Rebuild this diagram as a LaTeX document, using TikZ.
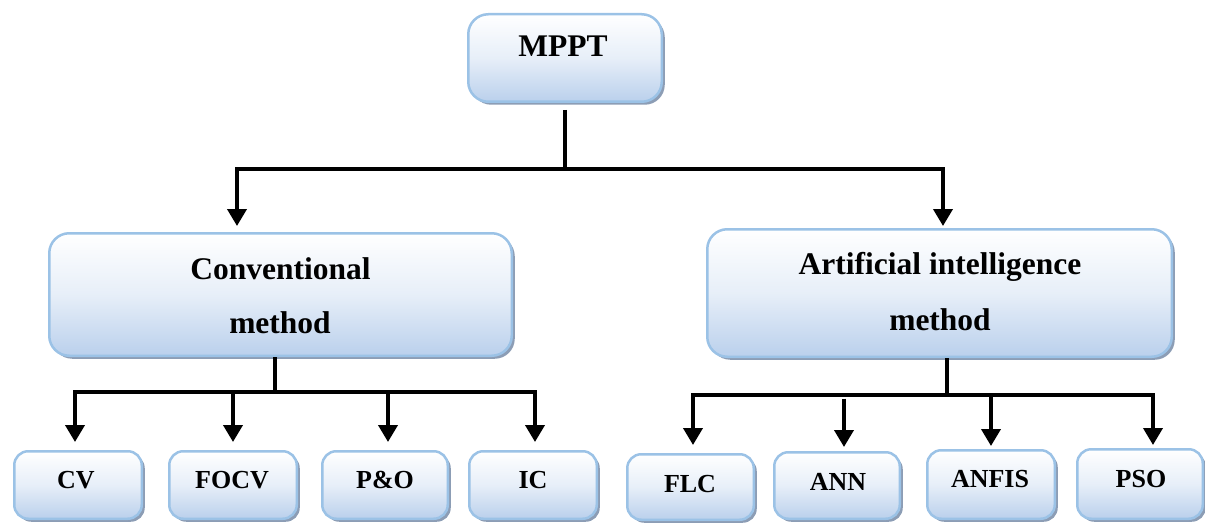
\documentclass[tikz,border=0pt]{standalone}
\usepackage{fontspec}
\setmainfont{Liberation Serif}
\usetikzlibrary{arrows.meta,shadows}
\definecolor{boxline}{RGB}{155,194,230}
\definecolor{boxfill}{RGB}{186,208,236}
\definecolor{boxshadow}{RGB}{120,140,168}
\tikzset{
  box/.style={draw=boxline, line width=2.5pt, inner sep=0pt,
    top color=white, bottom color=boxfill, middle color=boxfill!35!white,
    drop shadow={shadow xshift=3pt, shadow yshift=-3pt, fill=boxshadow, opacity=0.85}},
  bigbox/.style={box, rounded corners=20pt},
  smallbox/.style={box, rounded corners=14pt},
  bigtext/.style={font=\fontsize{31.5}{38}\selectfont\bfseries, inner sep=0pt, anchor=base},
  smalltext/.style={font=\fontsize{26}{31}\selectfont\bfseries, inner sep=0pt, anchor=base},
  conn/.style={line width=3.8pt, black},
  arr/.style={conn, -{Triangle[width=19pt,length=17pt]}}
}
\begin{document}
\begin{tikzpicture}[x=1pt,y=-1pt]
\useasboundingbox (0,0) rectangle (1205,524);
% boxes
\node[bigbox, minimum width=193.5pt, minimum height=87.5pt] (mppt) at (565,58) {};
\node[bigbox, minimum width=462.5pt, minimum height=122.5pt] (conv) at (280.5,294.5) {};
\node[bigbox, minimum width=464.5pt, minimum height=127.5pt] (ai) at (939.5,293) {};
\node[smallbox, minimum width=127.5pt, minimum height=67.5pt] (cv) at (78,485) {};
\node[smallbox, minimum width=127.5pt, minimum height=67.5pt] (focv) at (233,485) {};
\node[smallbox, minimum width=125.5pt, minimum height=67.5pt] (pando) at (385,485) {};
\node[smallbox, minimum width=127.5pt, minimum height=67.5pt] (ic) at (533,485) {};
\node[smallbox, minimum width=126.5pt, minimum height=65.5pt] (flc) at (690.5,487) {};
\node[smallbox, minimum width=125.5pt, minimum height=66.5pt] (ann) at (837,485.5) {};
\node[smallbox, minimum width=127.5pt, minimum height=68.5pt] (anfis) at (991,484.5) {};
\node[smallbox, minimum width=125.5pt, minimum height=69.5pt] (pso) at (1140,484) {};
% texts
\node[bigtext] (tmppt) at (563,57) {MPPT};
\node[bigtext] (tconv1) at (280.5,279) {Conventional};
\node[bigtext] (tconv2) at (280,333) {method};
\node[bigtext] (tai1) at (940,274) {Artificial intelligence};
\node[bigtext] (tai2) at (940,330) {method};
\node[smalltext] (tcv) at (76,488) {CV};
\node[smalltext] (tfocv) at (232,488) {FOCV};
\node[smalltext] (tpando) at (385,488) {P\&O};
\node[smalltext] (tic) at (533,488) {IC};
\node[smalltext] (tflc) at (690,492) {FLC};
\node[smalltext] (tann) at (838,490) {ANN};
\node[smalltext] (tanfis) at (990,487) {ANFIS};
\node[smalltext] (tpso) at (1141,487) {PSO};
% junction coordinates
\coordinate (top) at (565,169);
\coordinate (tL) at (237,169);
\coordinate (tR) at (943,169);
\coordinate (lj) at (275,392);
\coordinate (l1) at (75,392);
\coordinate (l2) at (233,392);
\coordinate (l3) at (388,392);
\coordinate (l4) at (535,392);
\coordinate (rj) at (947,395);
\coordinate (r1) at (693,395);
\coordinate (r2) at (844,395);
\coordinate (r3) at (991,395);
\coordinate (r4) at (1153,395);
% connectors
\draw[conn, shorten <=7pt] (mppt.south) -- (top);
\draw[arr, shorten >=6pt] (top) -- (tL) -- (tL |- conv.north);
\draw[arr, shorten >=2pt] (top) -- (tR) -- (tR |- ai.north);
\draw[conn] (lj |- conv.south) -- (lj);
\draw[arr, shorten >=8pt] (lj) -- (l1) -- (l1 |- cv.north);
\draw[arr, shorten >=8pt] (l2) -- (l2 |- focv.north);
\draw[arr, shorten >=8pt] (l3) -- (l3 |- pando.north);
\draw[arr, shorten >=8pt] (lj) -- (l4) -- (l4 |- ic.north);
\draw[conn] (rj |- ai.south) -- (rj);
\draw[arr, shorten >=8pt] (rj) -- (r1) -- (r1 |- flc.north);
\draw[arr, shorten <=3.5pt, shorten >=4pt] (r2) -- (r2 |- ann.north);
\draw[arr, shorten >=3pt] (r3) -- (r3 |- anfis.north);
\draw[arr, shorten >=3pt] (rj) -- (r4) -- (r4 |- pso.north);
\end{tikzpicture}
\end{document}
